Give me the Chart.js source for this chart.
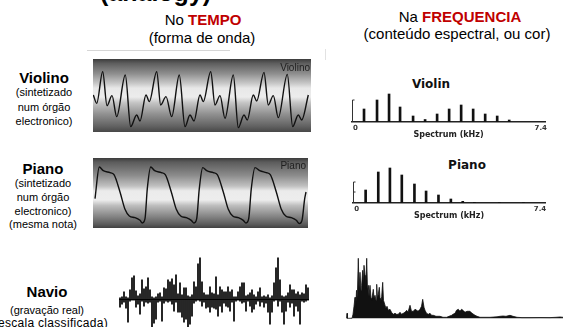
<!DOCTYPE html>
<html>
<head>
<meta charset="utf-8">
<script src="https://cdn.jsdelivr.net/npm/chart.js@4.4.1/dist/chart.umd.min.js"></script>
<style>
  body { margin: 0; width: 563px; height: 327px; overflow: hidden; background: #fff; position: relative;
         font-family: "Liberation Sans", Arial, sans-serif; color: #000; }
  .t { position: absolute; white-space: nowrap; }
  .c { transform: translateX(-50%); text-align: center; }
  .red { color: #c00000; font-weight: bold; }
  .head { font-size: 15px; line-height: 17px; }
  .name { font-size: 15px; line-height: 17px; font-weight: bold; }
  .desc { font-size: 11px; }
  canvas { position: absolute; }
</style>
</head>
<body>
<div class="t" style="left:100px;top:-22px;font-size:25px;line-height:28px;font-weight:bold">(analogy)</div>

<div class="t c head" style="left:203px;top:11px">No <span class="red">TEMPO</span></div>
<div class="t c head" style="left:202px;top:29px">(forma de onda)</div>
<div class="t c head" style="left:460px;top:8px">Na <span class="red">FREQUENCIA</span></div>
<div class="t c head" style="left:457px;top:25px">(conteúdo espectral, ou cor)</div>

<div class="t" style="left:87px;top:50px;width:143px;height:1px;background:#d6d6d6"></div>
<div class="t" style="left:325px;top:49px;width:1px;height:11px;background:#e2e2e2"></div>

<div class="t c name" style="left:44px;top:69px">Violino</div>
<div class="t c desc" style="left:44px;top:85px;line-height:14.5px">(sintetizado<br>num órgão<br>electronico)</div>

<div class="t c name" style="left:43px;top:160px">Piano</div>
<div class="t c desc" style="left:43px;top:177px;line-height:13.8px">(sintetizado<br>num órgão<br>electronico)<br>(mesma nota)</div>

<div class="t c name" style="left:47px;top:283px">Navio</div>
<div class="t c desc" style="left:47px;top:304px;line-height:13.5px">(gravação real)</div>
<div class="t desc" style="right:455px;top:317px;font-size:12px;line-height:13.5px;letter-spacing:0.3px">(escala classificada)</div>

<div class="t c" style="left:431px;top:77px;font:bold 12px 'DejaVu Sans', sans-serif;color:#111">Violin</div>
<div class="t c" style="left:467px;top:158px;font:bold 12px 'DejaVu Sans', sans-serif;color:#111">Piano</div>

<canvas id="violinWave" width="218" height="73" style="left:93px;top:59px"></canvas>
<canvas id="pianoWave" width="215" height="70" style="left:93px;top:158px"></canvas>
<canvas id="shipWave" width="190" height="72" style="left:119px;top:255px"></canvas>
<canvas id="violinSpec" width="223" height="62" style="left:340px;top:78px"></canvas>
<canvas id="pianoSpec" width="223" height="62" style="left:340px;top:159px"></canvas>
<canvas id="shipSpec" width="217" height="65" style="left:346px;top:255px"></canvas>

<script>
// violin waveform (time in arbitrary units, amplitude relative)
const violinTime = [3.3, 6.7, 12.7, 17, 22, 26.7, 35.3, 40.7, 46.7, 50, 56, 59.3,
  66.7, 70.7, 76, 81.7, 89.3, 95, 100, 104, 110, 113.3,
  120.7, 125, 130, 135, 143.3, 148.3, 154, 157.3, 163.3, 166.7,
  174, 178.3, 183.3, 188.3, 197.3, 202.7, 208.3, 211.7, 218.3];
const violinWave = [1, -24, 71, -31, -1, -64, 61, -94, -59, -77, 1, -19,
  71, -29, -4, -64, 61, -94, -59, -77, 1, -19,
  71, -29, -1, -69, 61, -97, -59, -74, 1, -17,
  69, -29, -1, -67, 63, -94, -59, -74, 1];

// piano waveform
const pianoTime = [5, 9.3, 13.3, 20, 24, 30, 35, 39.3, 45, 50, 52.3, 55, 57.3,
  60.7, 64.7, 71.3, 75.3, 81.3, 86.3, 90.7, 96.3, 101.3, 104, 106.7, 109.3,
  112.7, 116.7, 123.3, 127.3, 133.3, 138.3, 142.7, 148.3, 153.3, 156, 158.7, 161.3,
  165, 169.7, 176.3, 180.3, 186.3, 191.3, 195.7, 201.3, 206.3, 209.3, 212, 214.7, 216];
const pianoWave = [-17, 78, 67, 61, 55, 3, -49, -69, -74, -82, -90, -77, 13,
  78, 67, 61, 55, 3, -49, -69, -74, -82, -90, -77, 13,
  76, 67, 61, 55, 3, -49, -69, -74, -82, -90, -77, 13,
  76, 67, 61, 55, 3, -49, -69, -74, -82, -92, -82, -17, 3];

// ship recording: envelope per time slot (upper / lower excursion)
const shipHigh = [1, 2, 7, 2, 1, 9, 21, 23, 8, 3, 5, 19, 10, 12, 21, 9, 2, 1, 2, 5,
  6, 2, 11, 10, 19, 17, 20, 14, 24, 5, 16, 4, 11, 11, 3, 2, 4, 17, 12, 35,
  41, 17, 6, 4, 4, 12, 6, 5, 22, 4, 12, 9, 7, 7, 12, 7, 9, 2, 2, 7,
  12, 16, 16, 3, 4, 6, 9, 4, 2, 7, 11, 2, 3, 2, 4, 1, 3, 16, 31, 41,
  19, 3, 2, 3, 6, 14, 9, 9, 5, 7, 4, 6, 5, 14, 11];
const shipLow = [-9, -6, -4, -10, -24, -3, -2, -2, -9, -6, -16, -3, -8, -4, -5, -4, -29, -25, -21, -4,
  -3, -23, -5, -3, -4, -3, -6, -13, -4, -14, -14, -19, -24, -21, -29, -26, -18, -5, -3, -2,
  -3, -8, -4, -10, -9, -14, -9, -10, -11, -18, -8, -14, -5, -8, -9, -13, -4, -23, -3, -2,
  -3, -5, -4, -13, -3, -8, -14, -11, -6, -3, -8, -4, -9, -5, -14, -26, -14, -3, -2, -8,
  -3, -14, -26, -13, -4, -9, -5, -18, -8, -13, -26, -3, -4, -3, -2];

// harmonic spectra (kHz, relative level)
const spectrumTicks = [0, 7.4];
const violinFreq = [0.34, 0.86, 1.34, 1.78, 2.30, 2.78, 3.26, 3.74, 4.22, 4.70, 5.18, 5.66, 6.14];
const violinLevel = [13, 22, 28, 15, 6, 2.5, 8, 13, 17, 13, 8, 6, 2];
const pianoFreq = [0.36, 0.87, 1.34, 1.82, 2.33, 2.80, 3.30, 3.80, 4.28, 4.75, 5.76, 6.73];
const pianoLevel = [13, 31, 35, 28, 19, 12, 8, 4, 1.7, 0.7, 0.4, 0.4];

// ship spectrum (frequency bin, level)
const shipSpecBin = [0.5, 1, 1.5, 6, 7, 8, 9, 9.7, 10.5, 11.3,
  12.3, 13, 14, 15, 15.7, 16.7, 17.3, 18, 19, 19.8,
  20.7, 21.5, 22.3, 23, 24, 25, 25.7, 27.3, 28, 29,
  30, 30.7, 31.5, 32.3, 33.3, 34, 34.7, 35.7, 36.7, 37.5,
  39, 40, 41, 42.3, 44, 45.5, 47.3, 49, 50.5, 52.3,
  54, 55.5, 57.3, 59, 60.7, 62, 64, 65.5, 67.3, 69,
  70.7, 72, 74, 75.5, 76.7, 78, 79, 80.5, 82.3, 84,
  85.5, 87.3, 90, 94, 97, 100.7, 103, 105.7, 107, 109,
  110.5, 112.3, 114, 115.5, 117, 119, 121, 124, 126, 129,
  131, 134, 139, 144, 151, 154, 157, 160, 164, 167,
  171, 176, 184, 194, 204, 210, 214, 217];
const shipSpecLevel = [0, 5, 0, 0, 4, 12, 21, 9, 28, 20,
  60, 30, 46, 28, 33, 48, 35, 53, 43, 30,
  60, 28, 33, 22, 33, 20, 18, 29, 20, 23,
  18, 34, 20, 24, 31, 20, 16, 22, 36, 18,
  13, 10, 12, 8, 9, 6, 4, 5, 4, 4,
  6, 4, 5, 6, 8, 6, 13, 7, 7, 9,
  8, 7, 9, 12, 19, 11, 8, 5, 4, 5,
  3, 3, 2, 2, 1, 1, 2, 3, 4, 5,
  8, 9, 7, 9, 8, 6, 7, 7, 5, 3,
  2, 1, 1, 1, 1.5, 2, 2.3, 2, 3, 2,
  1, 0.7, 0.7, 0.8, 0.7, 1, 1.3, 1];

Chart.defaults.font.family = "'Liberation Sans', Arial, sans-serif";

const base = {
  responsive: false,
  animation: false,
  events: [],
  layout: { padding: 0 },
  plugins: { legend: { display: false }, tooltip: { enabled: false } },
};

// grey oscilloscope style background + caption in the corner
const boxShade = {
  id: "boxShade",
  beforeDraw(chart, args, opts) {
    const { ctx, chartArea: a } = chart;
    const g = ctx.createLinearGradient(0, a.top, 0, a.bottom);
    opts.stops.forEach((s) => g.addColorStop(s[0], s[1]));
    ctx.save();
    ctx.fillStyle = g;
    ctx.fillRect(a.left, a.top, a.right - a.left, a.bottom - a.top);
    ctx.font = "10px 'Liberation Sans', Arial, sans-serif";
    ctx.fillStyle = "#1e1e1e";
    ctx.textAlign = "right";
    ctx.fillText(opts.caption, a.right - opts.inset, a.top + opts.baseline);
    ctx.restore();
  },
};

// small "[" level bracket on the left of the spectra
const bracket = {
  id: "bracket",
  afterDraw(chart, args, opts) {
    const { ctx, chartArea: a, scales } = chart;
    const y = scales.y;
    const x = Math.round(a.left) + 0.5;
    const top = y.getPixelForValue(opts.top);
    ctx.save();
    ctx.strokeStyle = "#333";
    ctx.lineWidth = 1;
    ctx.beginPath();
    ctx.moveTo(x + 2, top);
    ctx.lineTo(x, top);
    ctx.lineTo(x, a.bottom);
    if (opts.mid) {
      const m = y.getPixelForValue(opts.mid);
      ctx.moveTo(x, m);
      ctx.lineTo(x + 2, m);
    }
    ctx.stroke();
    ctx.restore();
  },
};

const zeroLine = {
  id: "zeroLine",
  afterDatasetsDraw(chart) {
    const { ctx, chartArea: a, scales } = chart;
    const yy = Math.round(scales.y.getPixelForValue(0)) + 0.5;
    ctx.save();
    ctx.strokeStyle = "#000";
    ctx.lineWidth = 1;
    ctx.beginPath();
    ctx.moveTo(a.left, yy);
    ctx.lineTo(a.right, yy);
    ctx.stroke();
    ctx.restore();
  },
};

function waveChart(id, time, wave, xr, yr, shade) {
  new Chart(document.getElementById(id), {
    type: "line",
    data: {
      datasets: [{
        data: time.map((t, i) => ({ x: t, y: wave[i] })),
        borderColor: "#111",
        borderWidth: 1.4,
        pointRadius: 0,
        cubicInterpolationMode: "monotone",
      }],
    },
    options: {
      ...base,
      plugins: { ...base.plugins, boxShade: shade },
      scales: {
        x: { type: "linear", display: false, min: xr[0], max: xr[1] },
        y: { display: false, min: yr[0], max: yr[1] },
      },
    },
    plugins: [boxShade],
  });
}

waveChart("violinWave", violinTime, violinWave, [3, 221], [-110, 109], {
  caption: "Violino", inset: 1, baseline: 12,
  stops: [[0, "#3c3c3c"], [0.06, "#5e5e5e"], [0.2, "#8e8e8e"], [0.33, "#c6c6c6"], [0.4, "#e8e8e8"],
          [0.52, "#ececec"], [0.6, "#c4c4c4"], [0.75, "#929292"], [0.92, "#626262"], [1, "#474747"]],
});

waveChart("pianoWave", pianoTime, pianoWave, [3, 218], [-105, 105], {
  caption: "Piano", inset: 2, baseline: 11,
  stops: [[0, "#3c3c3c"], [0.06, "#5c5c5c"], [0.25, "#8c8c8c"], [0.4, "#c0c0c0"], [0.47, "#ebebeb"],
          [0.6, "#ededed"], [0.68, "#bdbdbd"], [0.82, "#8a8a8a"], [0.95, "#5a5a5a"], [1, "#404040"]],
});

new Chart(document.getElementById("shipWave"), {
  type: "bar",
  data: {
    labels: shipHigh.map((v, i) => i),
    datasets: [{
      data: shipLow.map((lo, i) => [lo, shipHigh[i]]),
      backgroundColor: "#000",
      barPercentage: 0.85,
      categoryPercentage: 1,
    }],
  },
  options: {
    ...base,
    scales: {
      x: { display: false },
      y: { display: false, min: -28.5, max: 43.5 },
    },
  },
  plugins: [zeroLine],
});

function specChart(id, freq, level, xr, padLeft, mark) {
  new Chart(document.getElementById(id), {
    type: "bar",
    data: {
      datasets: [{
        data: freq.map((f, i) => ({ x: f, y: level[i] })),
        backgroundColor: "#111",
        barThickness: 2,
      }],
    },
    options: {
      ...base,
      layout: { padding: { left: padLeft, right: 18, top: 0, bottom: 0 } },
      plugins: { ...base.plugins, bracket: mark },
      scales: {
        x: {
          type: "linear",
          offset: false,
          min: xr[0],
          max: xr[1],
          afterBuildTicks: (s) => { s.ticks = spectrumTicks.map((v) => ({ value: v })); },
          afterFit: (s) => { s.height = 18; },
          grid: { drawOnChartArea: false, drawTicks: false, color: "rgba(0,0,0,0)" },
          border: { display: true, color: "#222", width: 1.5 },
          ticks: {
            autoSkip: false,
            maxRotation: 0,
            padding: 2,
            color: "#333",
            font: { family: "'DejaVu Sans', sans-serif", weight: "bold", size: 7 },
            callback: (v) => String(v),
          },
          title: {
            display: true,
            text: "Spectrum (kHz)",
            color: "#222",
            padding: 0,
            font: { family: "'DejaVu Sans', sans-serif", weight: "bold", size: 8 },
          },
        },
        y: { display: false, min: 0, max: 44 },
      },
    },
    plugins: [bracket],
  });
}

specChart("violinSpec", violinFreq, violinLevel, [-0.14, 7.57], 12, { top: 22 });
specChart("pianoSpec", pianoFreq, pianoLevel, [-0.15, 7.6], 13, { top: 21, mid: 11 });

new Chart(document.getElementById("shipSpec"), {
  type: "line",
  data: {
    datasets: [{
      data: shipSpecBin.map((b, i) => ({ x: b, y: shipSpecLevel[i] })),
      borderColor: "#111",
      borderWidth: 0.8,
      backgroundColor: "#111",
      fill: "origin",
      tension: 0,
      pointRadius: 0,
    }],
  },
  options: {
    ...base,
    scales: {
      x: { type: "linear", display: false, min: 0, max: 217 },
      y: { display: false, min: -1.7, max: 63.3 },
    },
  },
});
</script>
</body>
</html>
